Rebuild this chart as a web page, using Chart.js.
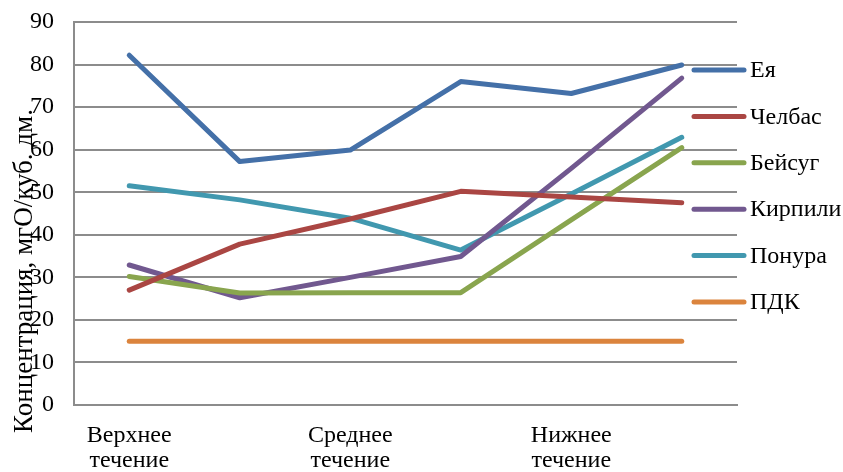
<!DOCTYPE html>
<html>
<head>
<meta charset="utf-8">
<script src="https://cdn.jsdelivr.net/npm/chart.js@4/dist/chart.umd.min.js"></script>
<style>
  html, body { margin: 0; padding: 0; background: #ffffff; }
  #wrap { width: 843px; height: 472px; position: relative; }
</style>
</head>
<body>
<div id="wrap"><canvas id="c" width="843" height="472"></canvas></div>
<script>
// River sections (labels shown on every other point)
const categories = [
  ['Верхнее', 'течение'], '',
  ['Среднее', 'течение'], '',
  ['Нижнее', 'течение'], ''
];

// Concentration, mgO per cubic dm
const seriesNames = ['Ея', 'Челбас', 'Бейсуг', 'Кирпили', 'Понура', 'ПДК'];
const eya      = [82.2, 57.2, 59.9, 76.0, 73.2, 79.9];
const chelbas  = [27.0, 37.8, 43.7, 50.2, 48.9, 47.5];
const beisug   = [30.2, 26.3, 26.4, 26.4, 43.5, 60.5];
const kirpili  = [32.9, 25.2, 30.0, 34.9, 55.6, 76.8];
const ponura   = [51.5, 48.2, 43.9, 36.4, 49.6, 62.9];
const pdk      = [15, 15, 15, 15, 15, 15];

const yTicks = [0, 10, 20, 30, 40, 50, 60, 70, 80, 90];
const yTitle = 'Концентрация, мгО/куб. дм.';

const seriesColors = ['#4470A8', '#AA4643', '#89A54E', '#71588F', '#4198AF', '#DB843D'];
const seriesValues = [eya, chelbas, beisug, kirpili, ponura, pdk];

const FONT = '"Liberation Serif", "Times New Roman", serif';
const GRID = '#8c8c8c';

// Legend and rotated axis title drawn on top of the plot
const overlay = {
  id: 'overlay',
  afterDraw(chart) {
    const ctx = chart.ctx;
    ctx.save();
    // legend
    chart.data.datasets.forEach((ds, i) => {
      const y = 70 + i * 46.4;
      ctx.strokeStyle = ds.borderColor;
      ctx.lineWidth = 5;
      ctx.lineCap = 'round';
      ctx.beginPath();
      ctx.moveTo(694, y);
      ctx.lineTo(744, y);
      ctx.stroke();
      ctx.fillStyle = '#000';
      ctx.font = '24px ' + FONT;
      ctx.textAlign = 'left';
      ctx.textBaseline = 'middle';
      ctx.fillText(ds.label, 750, y + 1);
    });
    // y axis title
    ctx.translate(32, 271);
    ctx.rotate(-Math.PI / 2);
    ctx.fillStyle = '#000';
    ctx.font = '27px ' + FONT;
    ctx.textAlign = 'center';
    ctx.textBaseline = 'alphabetic';
    ctx.fillText(yTitle, 0, 0);
    ctx.restore();
  }
};

new Chart(document.getElementById('c'), {
  type: 'line',
  data: {
    labels: categories,
    datasets: seriesNames.map((name, i) => ({
      label: name,
      data: seriesValues[i],
      borderColor: seriesColors[i],
      backgroundColor: seriesColors[i],
      borderWidth: 5,
      borderCapStyle: 'round',
      borderJoinStyle: 'round',
      pointRadius: 0,
      pointHoverRadius: 0,
      tension: 0,
      fill: false
    }))
  },
  options: {
    responsive: false,
    animation: false,
    events: [],
    layout: { padding: { top: 22, right: 106, left: 0, bottom: 0 } },
    plugins: {
      legend: { display: false },
      tooltip: { enabled: false },
      title: { display: false }
    },
    scales: {
      x: {
        type: 'category',
        offset: true,
        grid: { display: false, drawTicks: false },
        border: { display: true, color: GRID, width: 2 },
        ticks: {
          autoSkip: false,
          maxRotation: 0,
          minRotation: 0,
          padding: 18,
          color: '#000',
          font: { family: FONT, size: 24, lineHeight: 1.05 }
        },
        afterFit(scale) {
          scale.height = 67;
          scale.paddingLeft = 0;
          scale.paddingRight = 0;
        }
      },
      y: {
        min: 0,
        max: 90,
        afterBuildTicks(scale) { scale.ticks = yTicks.map(v => ({ value: v })); },
        grid: { color: GRID, lineWidth: 2, drawTicks: false },
        border: { display: true, color: GRID, width: 2 },
        ticks: {
          padding: 20,
          color: '#000',
          font: { family: FONT, size: 24 }
        },
        afterFit(scale) {
          scale.width = 74;
          scale.paddingTop = 0;
          scale.paddingBottom = 0;
        }
      }
    }
  },
  plugins: [overlay]
});
</script>
</body>
</html>
